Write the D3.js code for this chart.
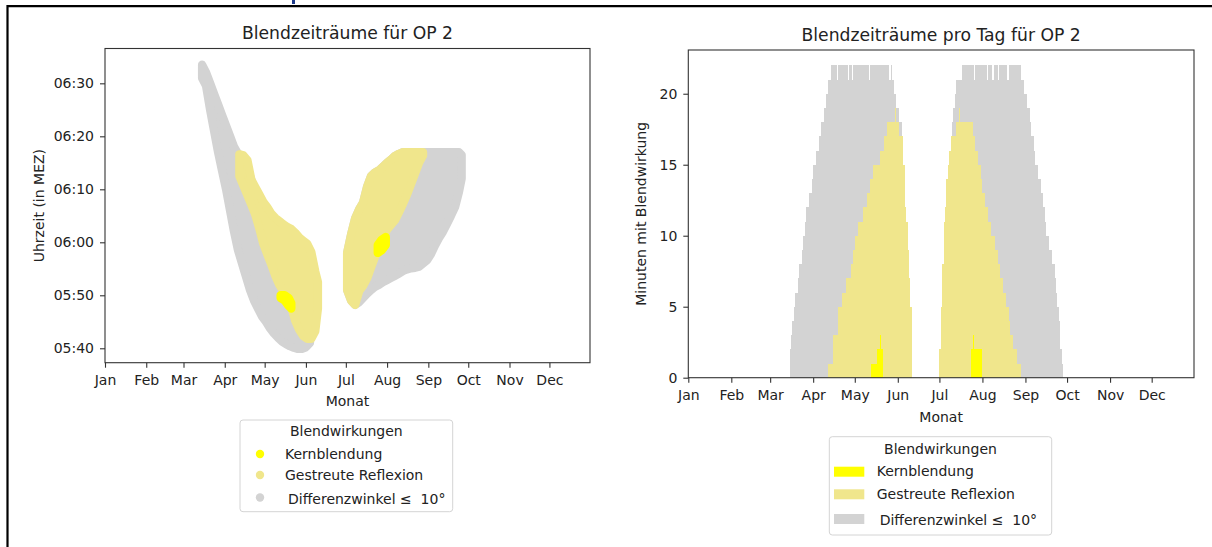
<!DOCTYPE html>
<html>
<head>
<meta charset="utf-8">
<script src="https://d3js.org/d3.v7.min.js"></script>
<style>
body { margin: 0; background: #fff; }
svg text { font-family: "DejaVu Sans", sans-serif; fill: #222; }
</style>
</head>
<body>
<div id="chart"></div>
<script>
// Monatsanfaenge als Tag des Jahres + Beschriftung
var monatTage = [0, 31, 59, 90, 120, 151, 181, 212, 243, 273, 304, 334];
var monatNamen = ["Jan", "Feb", "Mar", "Apr", "May", "Jun", "Jul", "Aug", "Sep", "Oct", "Nov", "Dec"];
var zeitTicks = ["05:40", "05:50", "06:00", "06:10", "06:20", "06:30"];
var minutenTicks = [0, 5, 10, 15, 20];

// linkes Diagramm: [Tag des Jahres, von, bis] (Uhrzeit MEZ)
var grauPunkte = [
  [73,"06:31","06:33:30"],[76,"06:29:30","06:32"],[79,"06:25","06:30"],[82,"06:21","06:28"],
  [85,"06:17","06:26"],[88,"06:13:30","06:24"],[91,"06:10","06:22"],[94,"06:06","06:20"],
  [97,"06:02","06:18"],[100,"05:58:30","06:16:42"],[103,"05:56","06:16:24"],[106,"05:53:30","06:15"],
  [109,"05:51","06:12:30"],[112,"05:49","06:10:18"],[115,"05:47:30","06:09"],[118,"05:46","06:07:30"],
  [121,"05:45","06:06:30"],[124,"05:43:48","06:05:18"],[127,"05:42:48","06:04:30"],[130,"05:42","06:03:42"],
  [133,"05:41:18","06:03:06"],[136,"05:40:48","06:02:36"],[139,"05:40:24","06:02:12"],[142,"05:40:06","06:01:36"],
  [145,"05:39:54","06:00:48"],[148,"05:39:54","06:00:12"],[151,"05:40:12","05:59:30"],[154,"05:41","05:58"],
  [182,"05:51","05:58"],[185,"05:49","06:01:30"],[188,"05:48:12","06:04:30"],[191,"05:48:42","06:06:12"],
  [194,"05:49:30","06:07:30"],[197,"05:50:18","06:10:30"],[200,"05:51","06:12:30"],[203,"05:51:36","06:13:12"],
  [206,"05:52","06:13:36"],[209,"05:52:30","06:14:18"],[212,"05:52:54","06:15"],[215,"05:53:18","06:15:36"],
  [218,"05:53:42","06:16:18"],[221,"05:54:06","06:16:42"],[224,"05:54:36","06:17"],[227,"05:54:54","06:17"],
  [230,"05:55:06","06:17"],[233,"05:55:12","06:17"],[236,"05:55:24","06:17"],[239,"05:56","06:17"],
  [242,"05:56:36","06:17"],[245,"05:57:48","06:17"],[248,"05:59:24","06:17"],[251,"06:00:48","06:17"],
  [254,"06:02","06:17"],[257,"06:03:30","06:17"],[260,"06:05","06:17"],[263,"06:06:36","06:17"],
  [266,"06:09:30","06:17"],[268,"06:12","06:16:30"]
];
var khakiPunkte = [
  [101,"06:12:30","06:16:36"],[104,"06:10:42","06:16:24"],[107,"06:08:54","06:15:30"],[110,"06:07:06","06:11:48"],
  [113,"06:05:12","06:10:24"],[116,"06:02:36","06:09"],[119,"05:59:42","06:07:36"],[122,"05:57:42","06:06:36"],
  [125,"05:55:48","06:05:24"],[128,"05:53:42","06:04:36"],[131,"05:52","06:04"],[134,"05:50:48","06:03:24"],
  [137,"05:49:24","06:02:54"],[140,"05:47:48","06:02:30"],[143,"05:45:12","06:01:48"],[146,"05:43:30","06:00:54"],
  [149,"05:42:18","06:00:18"],[152,"05:41:48","05:59:42"],[155,"05:41:48","05:58:12"],[158,"05:43:12","05:54:30"],
  [160,"05:47:30","05:52:30"],
  [182,"05:51","05:58"],[185,"05:49","06:01:30"],[188,"05:48:12","06:04:30"],[191,"05:50:48","06:06:12"],
  [194,"05:51:48","06:07:30"],[197,"05:53:12","06:10:30"],[200,"05:55:18","06:12:30"],[203,"05:57:18","06:13:12"],
  [206,"05:59:06","06:13:36"],[209,"06:00:48","06:14:18"],[212,"06:02:24","06:15"],[215,"06:03:18","06:15:36"],
  [218,"06:04:12","06:16:18"],[221,"06:05:42","06:16:42"],[224,"06:07:18","06:17"],[227,"06:09","06:17"],
  [230,"06:11","06:17"],[233,"06:13","06:17"],[236,"06:15","06:17"],[239,"06:16:24","06:17"]
];
var gelbPunkte = [
  [132,"05:49:30","05:50"],[135,"05:49","05:50"],[138,"05:48","05:49:30"],[140,"05:47:30","05:48:30"],
  [205,"05:58","05:59:30"],[208,"05:58:30","06:00:30"],[211,"05:59:30","06:01"]
];

// rechtes Diagramm: [vonTag, bisTag, Minuten]
var grauMinuten = [
  [73,73,2],[74,74,3],[75,75,4],[76,76,5],[77,78,6],[79,79,7],[80,81,8],[82,82,9],[83,83,10],[84,84,11],
  [85,86,12],[87,88,13],[89,89,14],[90,91,15],[92,93,16],[94,95,17],[96,97,18],[98,98,19],[99,100,20],
  [101,102,21],[103,106,22],[107,107,21],[108,114,22],[115,115,21],[116,117,22],[118,118,21],[119,129,22],
  [130,130,21],[131,144,22],[145,145,21],[146,146,22],[147,147,21],[148,149,20],[150,151,19],[152,153,18],
  [154,154,17],[155,155,15],[156,156,12],[157,157,11],[158,158,9],[159,159,7],[160,160,5],
  [181,181,2],[182,182,5],[183,183,8],[184,184,11],[185,185,12],[186,186,14],[187,187,15],[188,188,16],
  [189,189,17],[190,190,18],[191,191,19],[192,192,20],[193,196,21],[197,205,22],[206,206,21],[207,214,22],
  [215,215,21],[216,218,22],[219,219,21],[220,222,22],[223,223,21],[224,229,22],[230,230,21],[231,239,22],
  [240,241,21],[242,243,20],[244,245,19],[246,246,18],[247,248,17],[249,249,16],[250,251,15],[252,253,14],
  [254,255,13],[256,256,12],[257,257,11],[258,259,10],[260,261,9],[262,263,8],[264,264,7],[265,265,6],
  [266,266,5],[267,267,4],[268,268,2],[269,269,1]
];
var khakiMinuten = [
  [101,103,1],[104,107,3],[108,110,5],[111,113,6],[114,116,7],[117,118,8],[119,119,9],[120,121,10],
  [122,125,11],[126,128,12],[129,130,13],[131,132,14],[133,137,15],[138,140,16],[141,142,17],[143,148,18],
  [149,149,19],[150,151,18],[152,154,17],[155,155,15],[156,156,12],[157,157,11],[158,158,9],[159,159,7],
  [160,160,5],
  [181,181,2],[182,182,5],[183,183,8],[184,184,11],[185,185,12],[186,186,14],[187,187,15],[188,188,16],
  [189,192,17],[193,194,18],[195,195,19],[196,204,18],[205,206,17],[207,208,16],[209,210,15],[211,211,14],
  [212,213,13],[214,215,12],[216,217,11],[218,220,10],[221,222,9],[223,224,8],[225,226,7],[227,228,6],
  [229,230,5],[231,231,4],[232,233,3],[234,236,2],[237,239,1]
];
var gelbMinuten = [
  [132,135,1],[136,137,2],[138,138,3],[139,139,2],
  [204,204,2],[205,205,3],[206,211,2]
];

var legendeTitel = "Blendwirkungen";
var legendeNamen = ["Kernblendung", "Gestreute Reflexion", "Differenzwinkel \u2264  10\u00b0"];
var farben = ["yellow", "khaki", "lightgrey"];

var svgWidth = 1212;
var svgHeight = 547;
var fontSize = 14;
var markerR = 4.2;

var svg = d3.select("#chart")
    .append("svg")
    .attr("width", svgWidth)
    .attr("height", svgHeight);

// Rahmen vom Dokument
svg.append("path")
    .attr("d", "M1212,6.2H7.5V547")
    .attr("fill", "none")
    .attr("stroke", "#000")
    .attr("stroke-width", 2.2);
svg.append("rect")
    .attr("x", 292).attr("y", 0)
    .attr("width", 3).attr("height", 4)
    .attr("fill", "#1d3a8a");

function zeitInMin(s) {
    var p = s.split(":");
    return +p[0] * 60 + +p[1] + (p[2] ? +p[2] / 60 : 0);
}

// zusammenhaengende Zeitraeume (Fruehjahr / Sommer) trennen
function teile(punkte) {
    var gruppen = [];
    punkte.forEach((p, i) => {
        if (i == 0 || p[0] - punkte[i - 1][0] > 10) gruppen.push([]);
        gruppen[gruppen.length - 1].push(p);
    });
    return gruppen;
}

var links = {x0: 105, x1: 590, y0: 48.5, y1: 362.7};
var rechts = {x0: 688.3, x1: 1194, y0: 50, y1: 377.7};

var xLinks = d3.scaleLinear().domain([0, 364.5]).range([links.x0, links.x1]);
var yLinks = d3.scaleLinear().domain([337.28, 396.57]).range([links.y1, links.y0]);
var xRechts = d3.scaleLinear().domain([0, 364.5]).range([rechts.x0, rechts.x1]);
var yRechts = d3.scaleLinear().domain([0, 23.08]).range([rechts.y1, rechts.y0]);

function styleAxis(g) {
    g.attr("font-family", null).attr("font-size", fontSize);
    g.select(".domain").remove();
    g.selectAll(".tick line").attr("stroke", "#333").attr("stroke-width", 1.1);
    g.selectAll(".tick text").attr("fill", "#222");
}

function zeichneAchsen(box, xs, ys, yCall, titel, yTitel, yTitelX, monatY) {
    var g = svg.append("g");
    g.append("g")
        .attr("transform", `translate(0,${box.y1})`)
        .call(d3.axisBottom(xs).tickValues(monatTage).tickFormat((d, i) => monatNamen[i])
            .tickSize(5).tickPadding(7).tickSizeOuter(0))
        .call(styleAxis);
    g.append("g")
        .attr("transform", `translate(${box.x0},0)`)
        .call(yCall.tickSize(5).tickPadding(6).tickSizeOuter(0))
        .call(styleAxis);

    g.append("text")
        .attr("x", (box.x0 + box.x1) / 2)
        .attr("y", box.y0 - 9.5)
        .attr("text-anchor", "middle")
        .attr("font-size", 17.2)
        .text(titel);
    g.append("text")
        .attr("x", (box.x0 + box.x1) / 2)
        .attr("y", monatY)
        .attr("text-anchor", "middle")
        .attr("font-size", fontSize)
        .text("Monat");
    g.append("text")
        .attr("transform", `translate(${yTitelX},${(box.y0 + box.y1) / 2}) rotate(-90)`)
        .attr("text-anchor", "middle")
        .attr("font-size", fontSize)
        .text(yTitel);
    return g;
}

// ---- links: Blendzeitraeume ----
var gL = zeichneAchsen(links, xLinks, yLinks,
    d3.axisLeft(yLinks).tickValues(zeitTicks.map(zeitInMin)).tickFormat((d, i) => zeitTicks[i]),
    "Blendzeitr\u00e4ume f\u00fcr OP 2", "Uhrzeit (in MEZ)", 43.5, 406);

// Flaeche von-bis je Tag, Rand so breit wie die Punktmarker
var flaeche = d3.area()
    .x(d => xLinks(d[0]))
    .y0(d => yLinks(zeitInMin(d[1])))
    .y1(d => yLinks(zeitInMin(d[2])));

[[grauPunkte, farben[2]], [khakiPunkte, farben[1]], [gelbPunkte, farben[0]]].forEach(s => {
    gL.append("g").selectAll("path")
        .data(teile(s[0]))
        .join("path")
        .attr("d", flaeche)
        .attr("fill", s[1])
        .attr("stroke", s[1])
        .attr("stroke-width", markerR * 2)
        .attr("stroke-linejoin", "round");
});

gL.append("rect")
    .attr("x", links.x0).attr("y", links.y0)
    .attr("width", links.x1 - links.x0).attr("height", links.y1 - links.y0)
    .attr("fill", "none").attr("stroke", "#333").attr("stroke-width", 1.1);

// ---- rechts: Minuten pro Tag ----
var gR = zeichneAchsen(rechts, xRechts, yRechts,
    d3.axisLeft(yRechts).tickValues(minutenTicks),
    "Blendzeitr\u00e4ume pro Tag f\u00fcr OP 2", "Minuten mit Blendwirkung", 645.5, 421.5);

[[grauMinuten, farben[2]], [khakiMinuten, farben[1]], [gelbMinuten, farben[0]]].forEach(s => {
    gR.append("g").selectAll("rect")
        .data(s[0])
        .join("rect")
        .attr("x", d => xRechts(d[0]))
        .attr("width", d => xRechts(d[1] + 1) - xRechts(d[0]))
        .attr("y", d => yRechts(d[2]))
        .attr("height", d => yRechts(0) - yRechts(d[2]))
        .attr("fill", s[1])
        .attr("shape-rendering", "crispEdges");
});

gR.append("rect")
    .attr("x", rechts.x0).attr("y", rechts.y0)
    .attr("width", rechts.x1 - rechts.x0).attr("height", rechts.y1 - rechts.y0)
    .attr("fill", "none").attr("stroke", "#333").attr("stroke-width", 1.1);

// ---- Legenden ----
function legende(x, y, w, h, titelY, zeilenY, symbol) {
    var g = svg.append("g");
    g.append("rect")
        .attr("x", x).attr("y", y).attr("width", w).attr("height", h)
        .attr("rx", 3)
        .attr("fill", "#fff").attr("stroke", "#d4d4d4").attr("stroke-width", 1);
    g.append("text")
        .attr("x", x + w / 2).attr("y", titelY)
        .attr("text-anchor", "middle").attr("font-size", fontSize)
        .text(legendeTitel);
    legendeNamen.forEach((n, i) => {
        symbol(g, zeilenY[i], farben[i]);
        g.append("text")
            .attr("x", i == 2 ? x + symbol.textX + 3 : x + symbol.textX)
            .attr("y", zeilenY[i] + 4.5 + (i == 2 ? 1.5 : 0))
            .attr("font-size", fontSize)
            .style("white-space", "pre")
            .text(n);
    });
}

var punktSymbol = function (g, y, c) {
    g.append("circle").attr("cx", 260).attr("cy", y).attr("r", markerR).attr("fill", c);
};
punktSymbol.textX = 45;
legende(240, 420, 212.7, 91.7, 436, [454, 475, 497.5], punktSymbol);

var flaecheSymbol = function (g, y, c) {
    g.append("rect").attr("x", 834).attr("y", y - 5).attr("width", 30.3).attr("height", 10).attr("fill", c);
};
flaecheSymbol.textX = 47.4;
legende(829.3, 436.7, 222.4, 98.3, 454, [471.7, 494.3, 519], flaecheSymbol);
</script>
</body>
</html>
